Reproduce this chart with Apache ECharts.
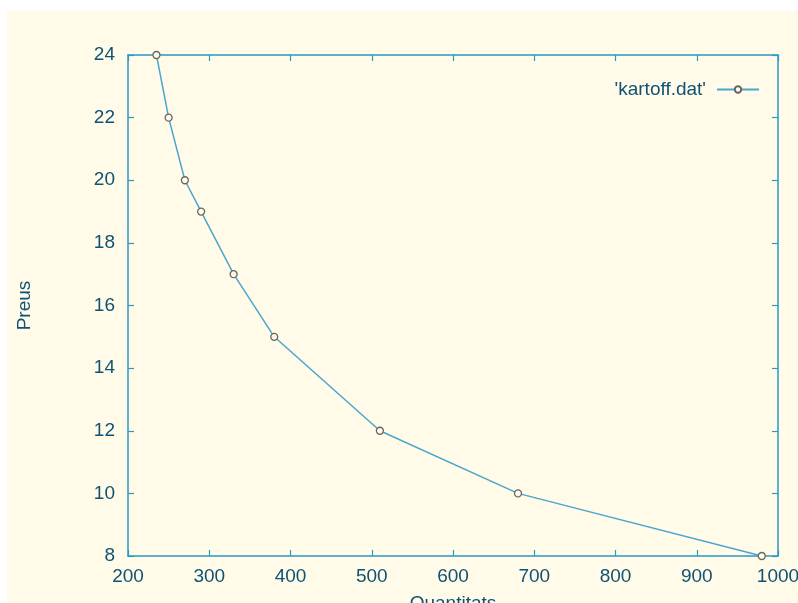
<!DOCTYPE html>
<html>
<head>
<meta charset="utf-8">
<script src="https://cdn.jsdelivr.net/npm/echarts@6/dist/echarts.min.js"></script>
<style>
  body { margin:0; background:#ffffff; }
  #chart { position:absolute; left:7px; top:11px; width:791px; height:592px; background:#fffbe8; }
</style>
</head>
<body>
<div id="chart"></div>
<script type="text/javascript">
// quantitat / preu
var quantitats = [235, 250, 270, 290, 330, 380, 510, 680, 980];
var preus = [24, 22, 20, 19, 17, 15, 12, 10, 8];
var serieName = "'kartoff.dat'";

var axisColor = '#2a98c8';
var textColor = '#0f5274';

var punts = [];
for (var i = 0; i < quantitats.length; i++) {
  punts.push([quantitats[i], preus[i]]);
}

var mychart = echarts.init(document.getElementById('chart'));

function axisBase(show) {
  return {
    axisLine: { show: true, lineStyle: { color: axisColor, width: 1.5 } },
    axisTick: { show: true, inside: true, length: 6, lineStyle: { color: axisColor, width: 1.2 } },
    axisLabel: { show: show, color: textColor, fontSize: 19, fontFamily: 'Liberation Sans',
                 formatter: function (v) { return String(v); } },
    splitLine: { show: false }
  };
}

var xBottom = axisBase(true);
xBottom.type = 'value';
xBottom.min = 200; xBottom.max = 1000; xBottom.interval = 100;
xBottom.position = 'bottom';
xBottom.name = 'Quantitats';
xBottom.nameLocation = 'middle';
xBottom.nameGap = 38;
xBottom.nameTextStyle = { color: textColor, fontSize: 19, fontFamily: 'Liberation Sans' };
xBottom.axisLabel.margin = 11;

var xTop = axisBase(false);
xTop.type = 'value';
xTop.min = 200; xTop.max = 1000; xTop.interval = 100;
xTop.position = 'top';

var yLeft = axisBase(true);
yLeft.type = 'value';
yLeft.min = 8; yLeft.max = 24; yLeft.interval = 2;
yLeft.position = 'left';
yLeft.name = 'Preus';
yLeft.nameLocation = 'middle';
yLeft.nameGap = 94;
yLeft.nameTextStyle = { color: textColor, fontSize: 19, fontFamily: 'Liberation Sans' };
yLeft.axisLabel.margin = 13;

var yRight = axisBase(false);
yRight.type = 'value';
yRight.min = 8; yRight.max = 24; yRight.interval = 2;
yRight.position = 'right';

var option = {
  animation: false,
  grid: { left: 121, top: 44, right: 20, bottom: 47, outerBoundsMode: 'none', containLabel: false },
  legend: {
    right: 33, top: 64,
    align: 'right',
    itemWidth: 42, itemHeight: 8, itemGap: 10,
    textStyle: { color: textColor, fontSize: 19, fontFamily: 'Liberation Sans', padding: [0, 6, 0, 0] },
    data: [serieName]
  },
  xAxis: [xBottom, xTop],
  yAxis: [yLeft, yRight],
  series: [
    {
      name: serieName,
      type: 'line',
      xAxisIndex: 0,
      yAxisIndex: 0,
      data: punts,
      symbol: 'circle',
      symbolSize: 7,
      showAllSymbol: true,
      lineStyle: { color: '#4aa6cf', width: 1.5 },
      itemStyle: { color: '#fffbe8', borderColor: '#666666', borderWidth: 1.3 }
    }
  ]
};
mychart.setOption(option);
</script>
</body>
</html>
